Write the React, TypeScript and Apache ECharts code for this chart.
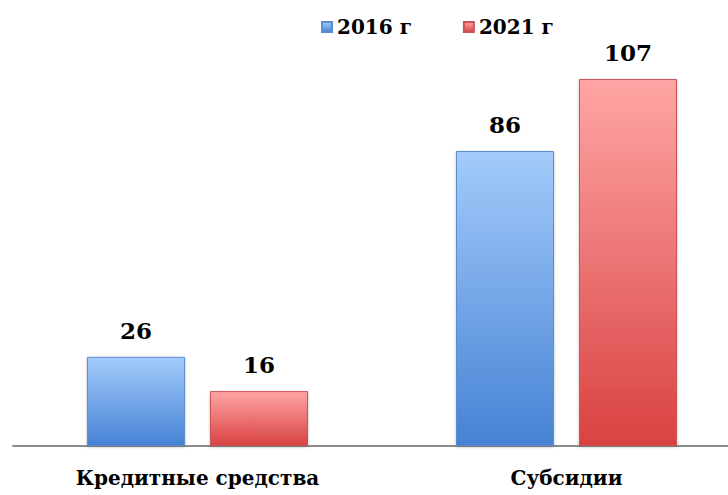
import React, { useEffect, useRef } from "react";
import * as echarts from "echarts";

const categories = ["Кредитные средства", "Субсидии"];
const series2016 = [26, 86];
const series2021 = [16, 107];
const seriesNames = ["2016 г", "2021 г"];

const FONT = "DejaVu Serif";

function grad(top: string, bottom: string) {
  return new echarts.graphic.LinearGradient(0, 0, 0, 1, [
    { offset: 0, color: top },
    { offset: 1, color: bottom },
  ]);
}

export default function App() {
  const ref = useRef<HTMLDivElement>(null);
  useEffect(() => {
    if (!ref.current) return;
    const chart = echarts.init(ref.current, null, { renderer: "svg" });
    const labelCfg = {
      show: true,
      position: "top" as const,
      distance: 15,
      color: "#000",
      fontFamily: FONT,
      fontWeight: "bold" as const,
      fontSize: 23,
    };
    chart.setOption({
      animation: false,
      backgroundColor: "#fff",
      legend: {
        left: 321,
        top: 17,
        padding: 0,
        itemWidth: 10,
        itemHeight: 10,
        itemGap: 51,
        icon: "rect",
        textStyle: { fontFamily: FONT, fontWeight: "bold", fontSize: 20, color: "#000" },
        data: seriesNames,
      },
      grid: { left: 13, right: -23, top: 34.4, bottom: 49, containLabel: false, outerBoundsMode: "none" },
      xAxis: {
        type: "category",
        data: categories,
        axisLine: { show: true, lineStyle: { color: "#8c8c8c", width: 2 } },
        axisTick: { show: false },
        axisLabel: {
          color: "#000",
          fontFamily: FONT,
          fontWeight: "bold",
          fontSize: 20,
          margin: 22,
        },
      },
      yAxis: {
        type: "value",
        min: 0,
        max: 120,
        show: false,
        splitLine: { show: false },
      },
      series: [
        {
          name: seriesNames[0],
          type: "bar",
          data: series2016,
          barWidth: 98,
          barGap: "25.5%",
          itemStyle: {
            color: grad("#a3cbfb", "#4682d4"),
            borderColor: "#5b8dcf",
            borderWidth: 1,
            shadowColor: "rgba(0,0,0,0.25)",
            shadowBlur: 3,
            shadowOffsetY: 1,
          },
          label: labelCfg,
        },
        {
          name: seriesNames[1],
          type: "bar",
          data: series2021,
          barWidth: 98,
          itemStyle: {
            color: grad("#ffa5a5", "#d94242"),
            borderColor: "#c95454",
            borderWidth: 1,
            shadowColor: "rgba(0,0,0,0.25)",
            shadowBlur: 3,
            shadowOffsetY: 1,
          },
          label: labelCfg,
        },
      ],
    });
    return () => chart.dispose();
  }, []);
  return (
    <div
      ref={ref}
      style={{ position: "fixed", left: 0, top: 0, width: 728, height: 495 }}
    />
  );
}
